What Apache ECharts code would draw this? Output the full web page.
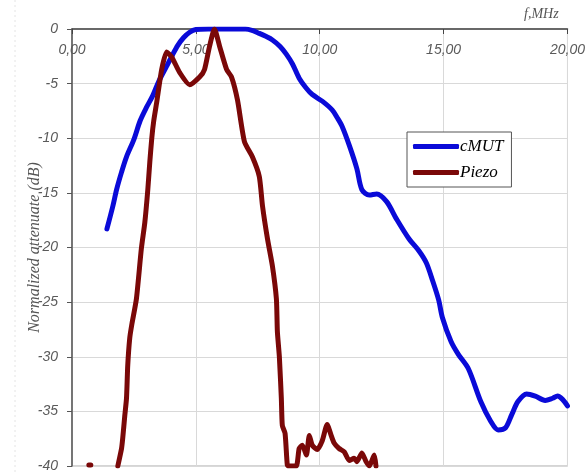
<!DOCTYPE html>
<html>
<head>
<meta charset="utf-8">
<script src="https://cdn.jsdelivr.net/npm/echarts@6/dist/echarts.min.js"></script>
<style>
html,body{margin:0;padding:0;background:#fff;}
#chart{width:588px;height:473px;}
</style>
</head>
<body>
<div id="chart"></div>
<script>
// ---- data ----
const xTicks = [0, 5, 10, 15, 20];
const yTicks = [0, -5, -10, -15, -20, -25, -30, -35, -40];

const cmutFreq = [1.41,1.65,1.8,2.0,2.2,2.5,2.75,3.0,3.26,3.5,3.82,4.05,4.27,4.5,4.75,5.0,5.5,6.0,6.5,7.0,7.3,7.56,7.8,8.09,8.4,8.65,8.9,9.17,9.45,9.7,10.1,10.5,10.7,10.9,11.2,11.5,11.7,12.0,12.3,12.7,13.1,13.6,14.0,14.3,14.55,14.8,14.95,15.3,15.6,16.0,16.5,16.9,17.2,17.5,17.75,18.0,18.35,18.7,19.1,19.4,19.6,19.8,20.0];
const cmutDb   = [-18.3,-16.2,-14.7,-13.1,-11.7,-10.1,-8.4,-7.2,-6.1,-4.8,-3.4,-2.4,-1.5,-0.8,-0.3,-0.05,0,0,0,0,-0.15,-0.4,-0.65,-1.0,-1.6,-2.3,-3.2,-4.5,-5.4,-6.0,-6.6,-7.4,-8.1,-8.9,-10.7,-12.8,-14.7,-15.2,-15.1,-15.8,-17.4,-19.2,-20.3,-21.4,-23.0,-24.8,-26.4,-28.6,-29.8,-31.1,-34.1,-35.9,-36.7,-36.5,-35.3,-34.1,-33.4,-33.6,-34.0,-33.8,-33.6,-33.9,-34.5];

const piezoFreq = [0.68,0.76,1.2,1.85,2.0,2.05,2.13,2.2,2.25,2.33,2.41,2.6,2.8,2.94,3.06,3.14,3.22,3.3,3.42,3.62,3.82,4.02,4.35,4.75,5.15,5.35,5.55,5.75,5.96,6.24,6.44,6.68,6.96,7.28,7.56,7.69,7.89,8.09,8.25,8.29,8.37,8.45,8.49,8.6,8.69,8.75,9.05,9.17,9.3,9.46,9.58,9.7,9.9,10.1,10.3,10.46,10.58,10.78,10.99,11.19,11.39,11.5,11.7,11.87,12.0,12.2,12.27];
const piezoDb   = [-39.9,-39.9,'-',-40,-38.4,-37.4,-35.4,-33.8,-30.8,-28.3,-27.1,-24.7,-20.1,-17.7,-14.7,-12.2,-10.0,-8.4,-6.7,-3.7,-2.1,-2.55,-4.0,-5.1,-4.4,-3.7,-1.6,0,-1.6,-3.7,-4.4,-6.5,-10.3,-11.7,-13.5,-16.2,-19.2,-21.7,-24.7,-27.7,-30.0,-33.8,-36.3,-37.0,-39.9,-40,-40,-38.4,-38.1,-39.0,-37.2,-38.1,-38.5,-37.7,-36.2,-37.2,-37.9,-38.4,-38.7,-39.5,-39.3,-39.6,-38.8,-39.6,-40,-39.0,-40];

const zip = (a, b) => a.map((v, i) => [v, b[i]]);

const chart = echarts.init(document.getElementById('chart'));
const labelFont = { fontFamily: 'Liberation Sans', fontStyle: 'italic', fontSize: 14, color: '#5a5a5a' };

chart.setOption({
  animation: false,
  backgroundColor: '#fff',
  grid: { left: 72, right: 19, top: 29, bottom: 5, show: true, borderColor: '#aaa', borderWidth: 1 },
  legend: {
    orient: 'vertical',
    left: 407, top: 132,
    backgroundColor: '#fff',
    borderColor: '#555', borderWidth: 1,
    padding: [6, 8, 6, 6],
    itemWidth: 46, itemHeight: 5, itemGap: 9,
    icon: 'roundRect',
    textStyle: { fontFamily: 'Liberation Serif', fontStyle: 'italic', fontSize: 17, color: '#000', padding: [0, 0, 0, -4] },
    data: ['cMUT', 'Piezo']
  },
  xAxis: {
    type: 'value', position: 'top',
    min: xTicks[0], max: xTicks[xTicks.length - 1], interval: 5,
    axisLine: { show: true, lineStyle: { color: '#444', width: 1.5 } },
    axisTick: { show: true, inside: true, length: 5, lineStyle: { color: '#444' } },
    axisLabel: Object.assign({ inside: true, margin: 14, formatter: v => v.toFixed(2).replace('.', ',') }, labelFont),
    splitLine: { show: true, lineStyle: { color: '#d9d9d9', width: 1 } }
  },
  yAxis: {
    type: 'value',
    min: yTicks[yTicks.length - 1], max: yTicks[0], interval: 5,
    name: 'Normalized attenuate (dB)', nameLocation: 'middle', nameGap: 29, nameMoveOverlap: false,
    nameTextStyle: { fontFamily: 'Liberation Serif', fontStyle: 'italic', fontSize: 16, color: '#555' },
    axisLine: { show: true, lineStyle: { color: '#555', width: 1.5 } },
    axisTick: { show: true, inside: false, length: 5, lineStyle: { color: '#555' } },
    axisLabel: Object.assign({ margin: 14 }, labelFont),
    splitLine: { show: true, lineStyle: { color: '#d9d9d9', width: 1 } }
  },
  graphic: [
    { type: 'text', left: 524, top: 7, style: { text: 'f,MHz', font: 'italic 14px "Liberation Serif"', fill: '#555' } },
    { type: 'line', shape: { x1: 15, y1: 0, x2: 15, y2: 473 }, style: { stroke: '#e4e4e4', lineWidth: 1, lineDash: [2, 3] } }
  ],
  series: [
    {
      name: 'cMUT', type: 'line', data: zip(cmutFreq, cmutDb),
      smooth: 0.3, showSymbol: false, symbol: 'none',
      lineStyle: { color: '#0a0ad8', width: 5, cap: 'round', join: 'round' },
      itemStyle: { color: '#0a0ad8' }
    },
    {
      name: 'Piezo', type: 'line', data: zip(piezoFreq, piezoDb),
      smooth: 0.2, showSymbol: false, symbol: 'none', connectNulls: false,
      lineStyle: { color: '#7a0808', width: 5, cap: 'round', join: 'round' },
      itemStyle: { color: '#7a0808' }
    }
  ]
});
</script>
</body>
</html>
